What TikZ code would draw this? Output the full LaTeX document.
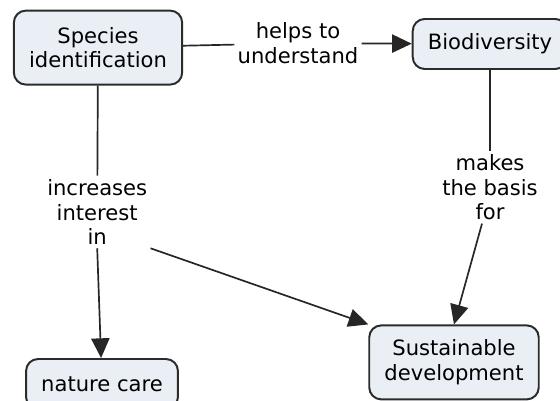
\documentclass[tikz,border=0pt]{standalone}
\usepackage{fontspec}
\setmainfont{DejaVu Sans}
\usetikzlibrary{arrows.meta}
\definecolor{boxfill}{HTML}{E9EFF5}
\definecolor{boxline}{HTML}{2B2B2B}
\begin{document}
\begin{tikzpicture}[thick, font=\fontsize{15}{17.7}\selectfont,
    concept/.style = {draw=boxline, line width=1.4pt, fill=boxfill, rounded corners=0.3cm,
                      align=center, inner xsep=0.38cm, minimum height=1.25cm},
    tall/.style = {minimum height=1.85cm},
    link/.style = {align=center, inner sep=2pt},
    conn/.style = {draw=black!85, line width=1.2pt},
    tip/.style = {-{Triangle[length=14pt,width=13pt]}}]
    \useasboundingbox (0,0) rectangle (14,-10.025);
    % i concetti
    \node[concept, tall] (species) at (2.45,-1.19) {Species\\identification};
    \node[concept] (bio) at (12.25,-1.1) {Biodiversity};
    \node[concept, tall] (sust) at (11.35,-9.06) {Sustainable\\development};
    \node[concept] (nature) at (2.55,-9.6) {nature care};
    % le etichette
    \node[link] (helps) at (7.45,-1.08) {helps to\\understand};
    \node[link] (makes) at (12.25,-4.68) {makes\\the basis\\for};
    \node[link] (incr) at (2.43,-5.3) {increases\\interest\\in};

    \draw[conn] (species) -- (helps);
    \draw[conn, tip] (makes.south) ++(-0.2,0) -- (sust.north);
    \draw[conn, tip] (helps) -- (bio);
    \draw[conn] (bio) -- (makes);
    \draw[conn] (species) -- (incr);
    \draw[conn, tip] (incr.south) -- (nature);
    \draw[conn, tip] (incr.south east) -- (sust.north west);
\end{tikzpicture}
\end{document}
